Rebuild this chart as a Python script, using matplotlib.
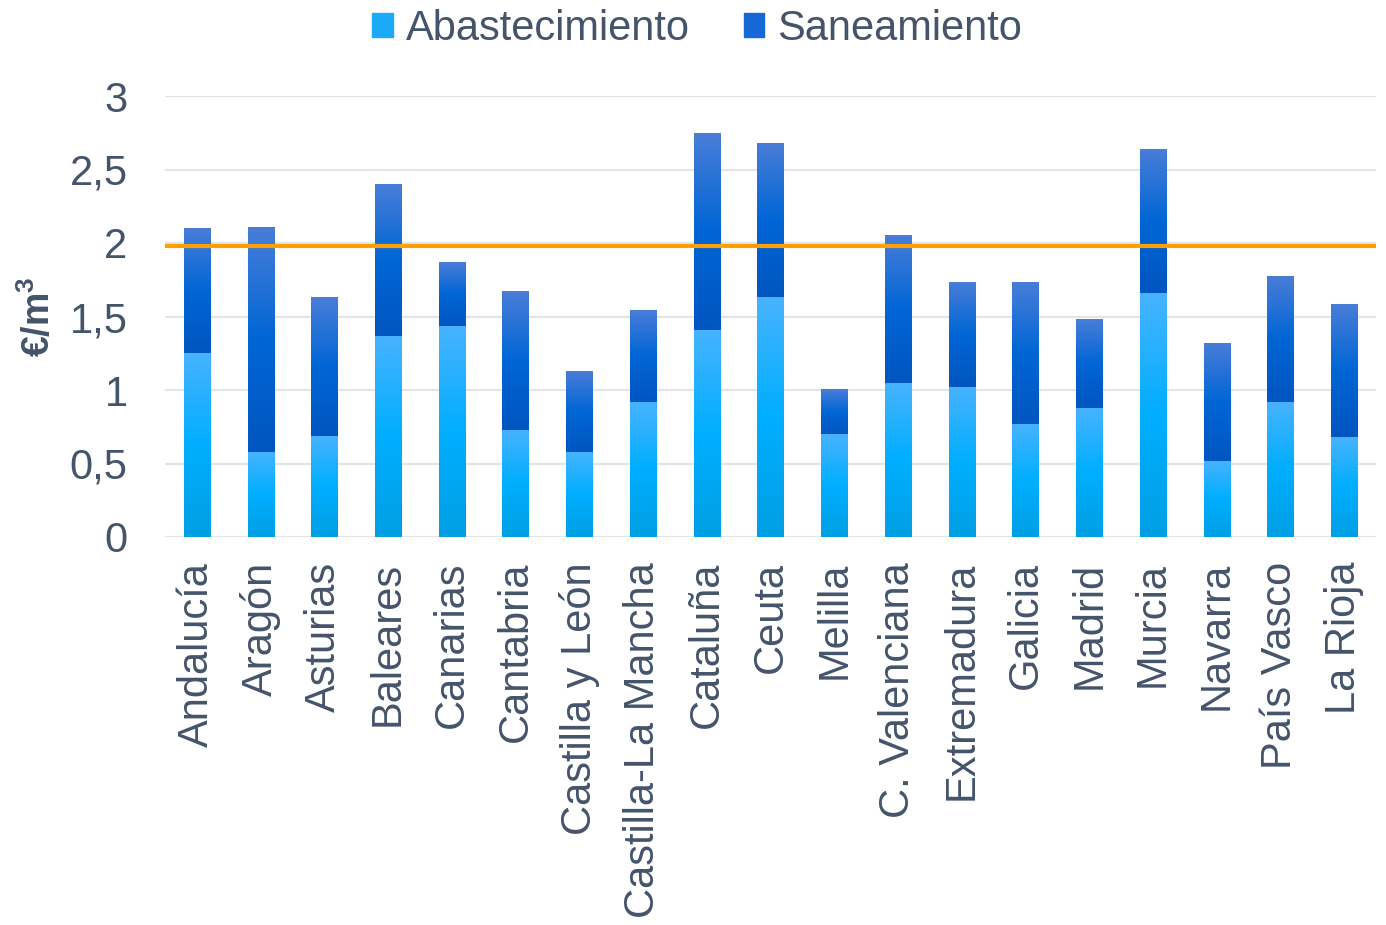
import numpy as np
import matplotlib.pyplot as plt
from matplotlib.colors import LinearSegmentedColormap
from matplotlib.patches import Patch

plt.rcParams['font.family'] = ['Liberation Sans', 'DejaVu Sans']
plt.rcParams['mathtext.fontset'] = 'custom'
plt.rcParams['mathtext.bf'] = 'Liberation Sans:bold'
plt.rcParams['mathtext.rm'] = 'Liberation Sans'

regiones = ['Andalucía', 'Aragón', 'Asturias', 'Baleares', 'Canarias', 'Cantabria',
            'Castilla y León', 'Castilla-La Mancha', 'Cataluña', 'Ceuta', 'Melilla',
            'C. Valenciana', 'Extremadura', 'Galicia', 'Madrid', 'Murcia', 'Navarra',
            'País Vasco', 'La Rioja']
abastecimiento = [1.25, 0.58, 0.69, 1.37, 1.435, 0.73, 0.58, 0.92, 1.41, 1.635, 0.70,
                  1.05, 1.02, 0.77, 0.88, 1.66, 0.52, 0.92, 0.68]
saneamiento = [0.845, 1.53, 0.94, 1.03, 0.43, 0.945, 0.545, 0.625, 1.34, 1.045, 0.305,
               1.005, 0.71, 0.965, 0.60, 0.975, 0.80, 0.855, 0.90]
media = 1.98
yticks = [0, 0.5, 1, 1.5, 2, 2.5, 3]
ytick_labels = ['0', '0,5', '1', '1,5', '2', '2,5', '3']

txt = '#44546A'
cmap_ab = LinearSegmentedColormap.from_list('ab', ['#009FE3', '#00AEFF', '#48B3FF'])
cmap_san = LinearSegmentedColormap.from_list('san', ['#0055C0', '#0066D5', '#497DD8'])

fig = plt.figure(figsize=(13.86, 9.25), dpi=100)
ax = fig.add_axes([165 / 1386, 1 - 537 / 925, 1211 / 1386, 441 / 925])

x = np.arange(len(regiones))
w = 0.41
b1 = ax.bar(x, abastecimiento, w, color='none', zorder=2)
b2 = ax.bar(x, saneamiento, w, bottom=abastecimiento, color='none', zorder=2)

# degradado vertical en cada tramo
grad = np.linspace(0, 1, 256).reshape(-1, 1)
for bars, cm in ((b1, cmap_ab), (b2, cmap_san)):
    for r in bars:
        x0, y0 = r.get_x(), r.get_y()
        ax.imshow(grad, cmap=cm, origin='lower', aspect='auto', zorder=2,
                  extent=[x0, x0 + r.get_width(), y0, y0 + r.get_height()])

ax.axhline(media, color='#FFA000', lw=3, zorder=3)

ax.set_xlim(-0.5, len(regiones) - 0.5)
ax.set_ylim(0, 3)
ax.set_yticks(yticks)
ax.set_yticklabels(ytick_labels)
ax.set_xticks(x)
ax.set_xticklabels(regiones, rotation=90)
ax.tick_params(length=0, labelsize=30, labelcolor=txt)
ax.tick_params(axis='y', pad=27)
ax.tick_params(axis='x', pad=18)
ax.grid(axis='y', color='#E1E5EA', lw=1.6, zorder=0)
ax.set_axisbelow(True)
for s in ax.spines.values():
    s.set_visible(False)

ax.set_ylabel(r'€/m$\mathbf{^3}$', fontsize=27, fontweight='bold', color=txt)
ax.yaxis.set_label_coords(-0.088, 0.5)

handles = [Patch(color='#1AAAF8', label='Abastecimiento'),
           Patch(color='#1668D5', label='Saneamiento')]
fig.legend(handles=handles, loc='upper center', bbox_to_anchor=(697 / 1386, 1.031),
           ncol=2, frameon=False, fontsize=30, labelcolor=txt,
           handlelength=0.5, handleheight=0.5, handletextpad=0.3, columnspacing=1.3)

fig.savefig('out.png', dpi=100)
